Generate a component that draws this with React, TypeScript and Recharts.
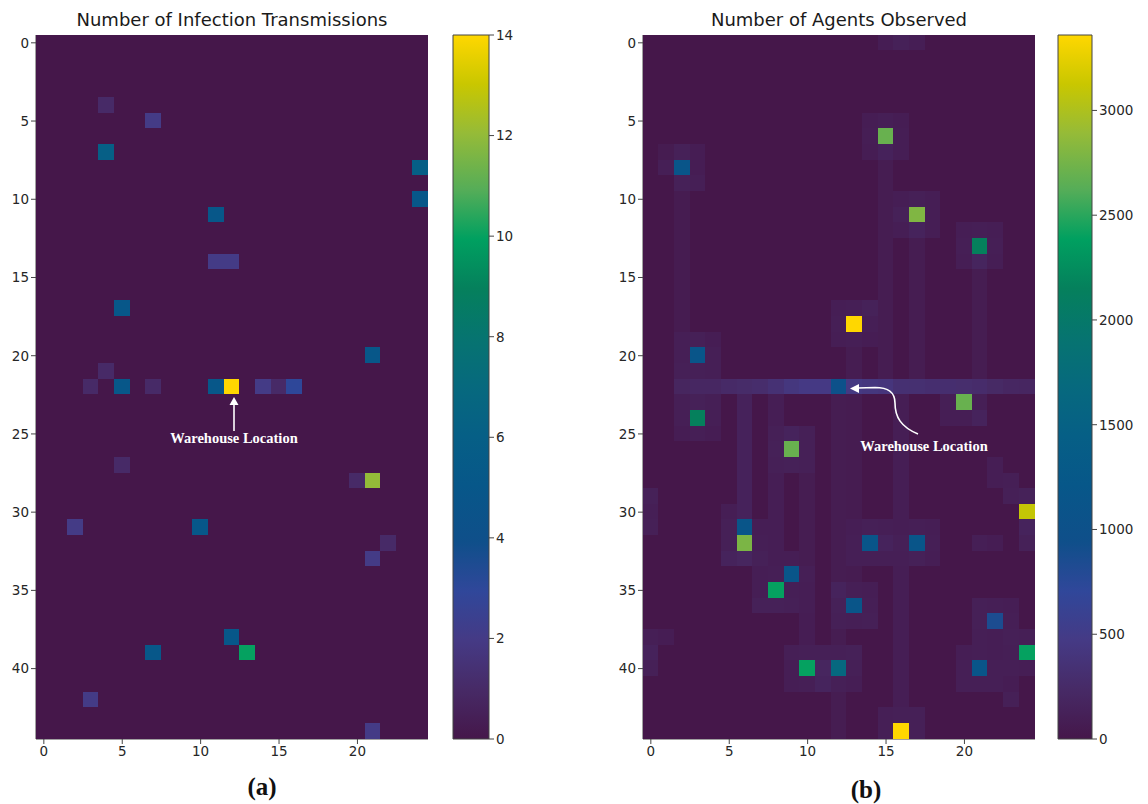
import { ScatterChart, Scatter, XAxis, YAxis, ReferenceDot, BarChart, Bar } from "recharts"

const N_COLS = 25
const N_ROWS = 45
const xTicks = [0, 5, 10, 15, 20]
const yTicks = [0, 5, 10, 15, 20, 25, 30, 35, 40]

// panel (a): infection transmissions, [row, col, count]
const infectionMax = 14
const infectionBarTicks = [0, 2, 4, 6, 8, 10, 12, 14]
const infectionCells = [
  [4, 4, 1], [5, 7, 2], [7, 4, 6], [8, 24, 6], [10, 24, 5], [11, 11, 5],
  [14, 11, 2], [14, 12, 2], [17, 5, 5], [20, 21, 5], [21, 4, 1],
  [22, 3, 1], [22, 5, 5], [22, 7, 1], [22, 11, 5], [22, 12, 14], [22, 14, 2], [22, 15, 1], [22, 16, 3],
  [27, 5, 1], [28, 20, 1], [28, 21, 12], [31, 2, 2], [31, 10, 5], [32, 22, 1], [33, 21, 2],
  [38, 12, 5], [39, 7, 5], [39, 13, 10], [42, 3, 2], [44, 21, 2],
]

// panel (b): agents observed
const agentsMax = 3360
const agentsBarTicks = [0, 500, 1000, 1500, 2000, 2500, 3000]
// faint vertical paths: [col, fromRow, toRow, value]
const agentTracks = [
  [2, 10, 18, 60], [15, 8, 21, 70], [17, 13, 21, 70], [21, 15, 21, 70], [13, 20, 21, 70],
  [6, 23, 30, 140], [8, 23, 33, 90], [10, 28, 33, 70], [10, 36, 38, 80],
  [12, 23, 44, 70], [13, 23, 34, 60], [16, 23, 42, 90], [21, 36, 41, 100],
]
// the corridor through the warehouse row
const corridorRow = 22
const corridorCols = [2, 3, 4, 5, 6, 7, 8, 9, 10, 11, 13, 14, 15, 16, 17, 18, 19, 20, 21, 22, 23, 24]
const corridorValues = [180, 200, 200, 240, 260, 280, 340, 420, 460, 460, 450, 420, 400, 330, 320, 300, 300, 290, 270, 230, 200, 190]
// faint cells around hot spots: [row, col, value]
const agentFaintCells = [
  [0, 15, 80], [0, 16, 120], [0, 17, 90],
  [5, 14, 80], [5, 15, 100], [5, 16, 80], [6, 14, 90], [6, 16, 90], [7, 14, 80], [7, 15, 140], [7, 16, 90],
  [7, 1, 60], [7, 2, 120], [7, 3, 80], [8, 1, 100], [8, 3, 80], [9, 2, 120], [9, 3, 100],
  [10, 16, 90], [10, 17, 110], [10, 18, 90], [11, 16, 120], [11, 18, 90], [12, 16, 90], [12, 17, 150], [12, 18, 90],
  [12, 20, 90], [12, 21, 100], [12, 22, 90], [13, 20, 100], [13, 22, 100], [14, 20, 90], [14, 21, 170], [14, 22, 90],
  [17, 12, 90], [17, 13, 100], [17, 14, 130], [18, 12, 100], [18, 14, 100], [19, 12, 90], [19, 13, 100], [19, 14, 80],
  [19, 2, 100], [19, 3, 110], [19, 4, 80], [20, 2, 100], [20, 4, 100], [21, 2, 110], [21, 3, 110], [21, 4, 100],
  [23, 2, 100], [23, 3, 120], [23, 4, 100], [24, 2, 100], [24, 4, 100], [25, 2, 80], [25, 3, 100], [25, 4, 80],
  [23, 19, 100], [23, 21, 100], [24, 19, 90], [24, 20, 90], [24, 21, 150],
  [25, 8, 110], [26, 8, 120], [27, 8, 110], [25, 9, 150], [25, 10, 110], [26, 10, 110], [27, 9, 120], [27, 10, 110],
  [27, 22, 90], [28, 22, 90], [28, 23, 100], [29, 23, 110], [29, 24, 130], [31, 24, 150], [32, 24, 120],
  [29, 0, 120], [30, 0, 100], [31, 0, 110], [38, 0, 100], [39, 0, 140], [40, 0, 110], [38, 1, 80],
  [30, 5, 90], [31, 5, 110], [32, 5, 110], [33, 5, 150], [31, 7, 90], [32, 7, 100], [33, 7, 120], [33, 6, 180], [33, 8, 90],
  [31, 13, 90], [31, 14, 110], [31, 15, 100], [31, 16, 90], [31, 17, 100], [31, 18, 90],
  [32, 13, 100], [32, 15, 150], [32, 16, 110], [32, 18, 100], [32, 21, 100], [32, 22, 80],
  [33, 13, 100], [33, 14, 100], [33, 15, 100], [33, 16, 100], [33, 17, 120], [33, 18, 90],
  [33, 9, 90], [34, 7, 90], [34, 8, 100], [34, 10, 100], [35, 7, 90], [35, 9, 100], [35, 10, 90],
  [36, 7, 120], [36, 8, 120], [36, 9, 110], [36, 10, 90],
  [35, 12, 150], [36, 12, 120], [37, 12, 110], [35, 13, 100], [35, 14, 90], [36, 14, 100], [37, 13, 100], [37, 14, 110],
  [36, 21, 110], [36, 22, 100], [36, 23, 90], [37, 21, 110], [37, 23, 100], [38, 21, 100], [38, 22, 90], [38, 23, 110],
  [39, 23, 100], [40, 23, 100], [41, 23, 80], [42, 23, 110], [38, 24, 100], [40, 24, 90],
  [39, 20, 90], [39, 22, 90], [40, 20, 100], [40, 22, 100], [41, 20, 100], [41, 22, 100],
  [39, 9, 100], [39, 10, 110], [39, 11, 110], [40, 9, 90], [40, 11, 180], [41, 9, 90], [41, 10, 100], [41, 11, 160],
  [39, 12, 110], [39, 13, 120], [40, 13, 110], [41, 12, 110], [41, 13, 90],
  [43, 15, 100], [43, 16, 110], [43, 17, 110], [44, 15, 100], [44, 17, 110],
]
const agentPeakCells = [
  [6, 15, 2700], [8, 2, 1150], [11, 17, 2800], [13, 21, 2150], [18, 13, 3360], [20, 3, 1150],
  [22, 12, 1000], [23, 20, 2700], [24, 3, 2150], [26, 9, 2700], [30, 24, 3100],
  [31, 6, 1150], [32, 6, 2780], [32, 14, 1150], [32, 17, 1150], [34, 9, 1150], [35, 8, 2400],
  [36, 13, 1150], [37, 22, 850], [39, 24, 2400], [40, 10, 2400], [40, 12, 1650], [40, 21, 1150], [44, 16, 3360],
]

const CMAP: [number, string][] = [
  [0, "#45174a"], [0.07, "#472a66"], [0.14, "#453a85"], [0.21, "#30479a"], [0.28, "#0f4f8a"],
  [0.36, "#075789"], [0.43, "#065f86"], [0.5, "#06697e"], [0.57, "#067470"], [0.64, "#05805c"],
  [0.71, "#00a060"], [0.78, "#55ad58"], [0.86, "#95bb38"], [0.93, "#c9c700"], [1, "#ffd700"],
]

function hex(c: string) {
  return [1, 3, 5].map((i) => parseInt(c.slice(i, i + 2), 16))
}

function colorAt(t: number) {
  const k = Math.max(0, Math.min(1, t))
  for (let i = 1; i < CMAP.length; i++) {
    if (k <= CMAP[i][0]) {
      const [t0, c0] = CMAP[i - 1]
      const [t1, c1] = CMAP[i]
      const f = (k - t0) / (t1 - t0)
      const a = hex(c0)
      const b = hex(c1)
      return `rgb(${a.map((v, j) => Math.round(v + (b[j] - v) * f)).join(",")})`
    }
  }
  return CMAP[CMAP.length - 1][1]
}

function toGrid(entries: number[][]) {
  const vals = new Array(N_ROWS * N_COLS).fill(0)
  for (const [r, c, v] of entries) vals[r * N_COLS + c] = v
  return vals.map((v, i) => ({ x: i % N_COLS, y: Math.floor(i / N_COLS), v }))
}

const infectionGrid = toGrid(infectionCells)

const agentEntries: number[][] = []
for (const [col, r0, r1, v] of agentTracks) {
  for (let r = r0; r <= r1; r++) agentEntries.push([r, col, v])
}
agentFaintCells.forEach((e) => agentEntries.push(e))
corridorCols.forEach((c, i) => agentEntries.push([corridorRow, c, corridorValues[i]]))
agentPeakCells.forEach((e) => agentEntries.push(e))
const agentGrid = toGrid(agentEntries)

const PLOT_W = 392
const PLOT_H = 704
const CELL_W = PLOT_W / N_COLS
const CELL_H = PLOT_H / N_ROWS

const tickStyle = { fontSize: 13.5, fill: "#262626", fontFamily: "DejaVu Sans" }
const frame = { stroke: "#444", strokeWidth: 1 }

const cellShape = (vmax: number) => (props: any) => {
  const { cx, cy, payload } = props
  return (
    <rect
      x={cx - CELL_W / 2 - 0.5}
      y={cy - CELL_H / 2 - 0.5}
      width={CELL_W + 1}
      height={CELL_H + 1}
      fill={colorAt(payload.v / vmax)}
      shapeRendering="crispEdges"
    />
  )
}

const labelFont = { fontFamily: "Liberation Serif", fontWeight: 700 }

function StraightArrow(props: any) {
  const { cx, cy } = props
  const x = cx + 2
  return (
    <g>
      <line x1={x} y1={cy + 44} x2={x} y2={cy + 16} stroke="#fff" strokeWidth={1.6} />
      <path d={`M${x} ${cy + 10} L${x - 4.5} ${cy + 18} L${x + 4.5} ${cy + 18} Z`} fill="#fff" />
      <text x={x} y={cy + 56} textAnchor="middle" fill="#fff" fontSize={14.5} {...labelFont}>
        Warehouse Location
      </text>
    </g>
  )
}

function CurvedArrow(props: any) {
  const { cx, cy } = props
  const p = (dx: number, dy: number) => `${cx + dx} ${cy + dy}`
  return (
    <g>
      <path
        d={`M${p(79, 47)} C${p(62, 40)} ${p(56, 30)} ${p(56, 16)} C${p(56, 4)} ${p(48, 0.5)} ${p(36, 0.5)} L${p(19, 1)}`}
        fill="none"
        stroke="#fff"
        strokeWidth={1.6}
      />
      <path d={`M${p(11, 1.5)} L${p(20, -3)} L${p(20, 6)} Z`} fill="#fff" />
      <text x={cx + 85} y={cy + 64} textAnchor="middle" fill="#fff" fontSize={14.5} {...labelFont}>
        Warehouse Location
      </text>
    </g>
  )
}

function Heatmap({ data, vmax, width, marginLeft, marginRight, arrow }: any) {
  return (
    <ScatterChart
      width={width}
      height={804}
      margin={{ top: 35, right: marginRight, bottom: 35, left: marginLeft }}
    >
      <XAxis
        type="number"
        dataKey="x"
        domain={[-0.5, 24.5]}
        ticks={xTicks}
        interval={0}
        allowDataOverflow
        height={30}
        tickSize={5}
        tick={tickStyle}
        axisLine={frame}
        tickLine={frame}
      />
      <YAxis
        type="number"
        dataKey="y"
        domain={[-0.5, 44.5]}
        reversed
        ticks={yTicks}
        interval={0}
        allowDataOverflow
        width={30}
        tickSize={5}
        tick={tickStyle}
        axisLine={frame}
        tickLine={frame}
      />
      <XAxis xAxisId="top" orientation="top" type="number" domain={[-0.5, 24.5]} height={0} tick={false} tickLine={false} axisLine={frame} />
      <YAxis yAxisId="right" orientation="right" type="number" domain={[-0.5, 44.5]} width={0} tick={false} tickLine={false} axisLine={frame} />
      <Scatter data={data} shape={cellShape(vmax)} isAnimationActive={false} />
      <ReferenceDot x={12} y={22} r={0} shape={arrow} />
    </ScatterChart>
  )
}

function Colorbar({ id, vmax, ticks, width, axisWidth }: any) {
  return (
    <BarChart
      width={width}
      height={804}
      data={[{ name: "cb", v: vmax }]}
      margin={{ top: 35, right: 0, bottom: 65, left: 3 }}
      barCategoryGap={0}
    >
      <defs>
        <linearGradient id={id} x1="0" y1="1" x2="0" y2="0">
          {CMAP.map(([t, c]) => (
            <stop key={t} offset={t} stopColor={c} />
          ))}
        </linearGradient>
      </defs>
      <XAxis dataKey="name" hide />
      <YAxis
        orientation="right"
        domain={[0, vmax]}
        ticks={ticks}
        interval={0}
        width={axisWidth}
        tickSize={5}
        tick={tickStyle}
        axisLine={false}
        tickLine={frame}
      />
      <Bar dataKey="v" fill={`url(#${id})`} stroke="#444" strokeWidth={1} isAnimationActive={false} />
    </BarChart>
  )
}

const titleStyle: any = {
  position: "absolute",
  top: 8,
  fontFamily: "DejaVu Sans",
  fontSize: 18,
  color: "#1a1a1a",
  textAlign: "center",
  width: 392,
  lineHeight: "24px",
}

const subStyle: any = {
  position: "absolute",
  fontFamily: "Liberation Serif",
  fontWeight: 700,
  fontSize: 25,
  color: "#111",
  width: 80,
  textAlign: "center",
}

export default function App() {
  return (
    <div style={{ position: "absolute", left: 0, top: 0, width: 1148, height: 804, background: "#fff", overflow: "hidden" }}>
      <div style={{ position: "absolute", left: 0, top: 0 }}>
        <Heatmap data={infectionGrid} vmax={infectionMax} width={440} marginLeft={6} marginRight={12} arrow={StraightArrow} />
      </div>
      <div style={{ position: "absolute", left: 450, top: 0 }}>
        <Colorbar id="cbA" vmax={infectionMax} ticks={infectionBarTicks} width={80} axisWidth={41} />
      </div>
      <div style={{ position: "absolute", left: 600, top: 0 }}>
        <Heatmap data={agentGrid} vmax={agentsMax} width={450} marginLeft={13} marginRight={15} arrow={CurvedArrow} />
      </div>
      <div style={{ position: "absolute", left: 1055, top: 0 }}>
        <Colorbar id="cbB" vmax={agentsMax} ticks={agentsBarTicks} width={93} axisWidth={56} />
      </div>
      <div style={{ ...titleStyle, left: 36 }}>Number of Infection Transmissions</div>
      <div style={{ ...titleStyle, left: 643 }}>Number of Agents Observed</div>
      <div style={{ ...subStyle, left: 222, top: 773 }}>(a)</div>
      <div style={{ ...subStyle, left: 826, top: 776 }}>(b)</div>
    </div>
  )
}
